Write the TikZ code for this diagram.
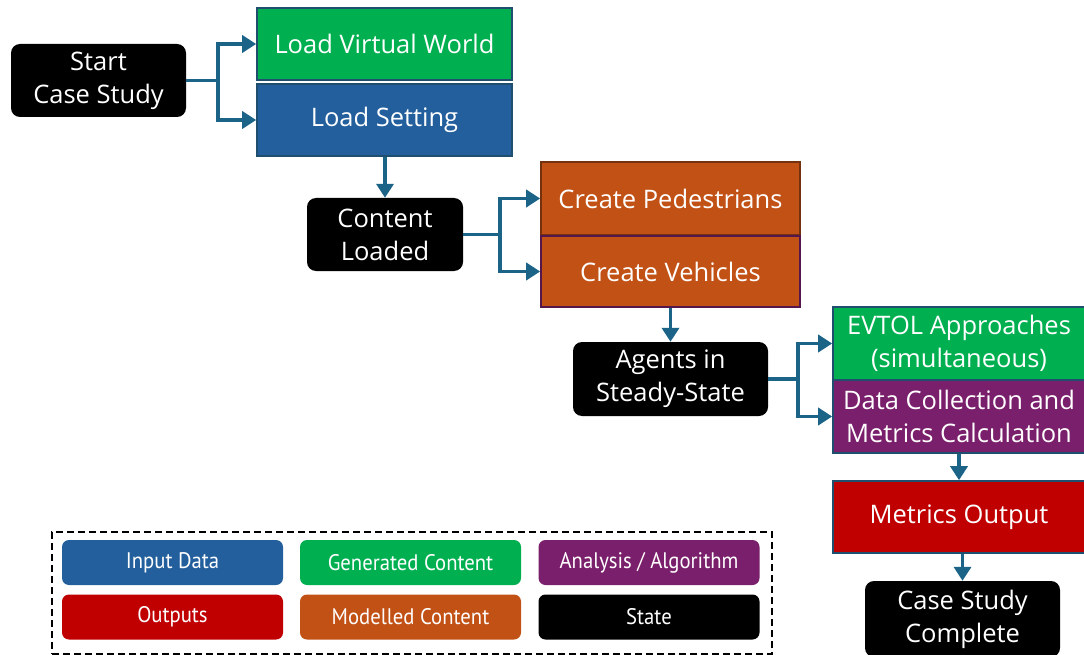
\documentclass[tikz,border=0pt]{standalone}
\usepackage{fontspec}
\setmainfont{Open Sans}
\newfontfamily\legendfont{PT Sans}[FakeStretch=0.92]
\usetikzlibrary{arrows.meta}

\definecolor{flowline}{HTML}{1B6487}
\definecolor{edgeline}{HTML}{1F4E6E}
\definecolor{genC}{HTML}{00B050}
\definecolor{inC}{HTML}{235F9C}
\definecolor{modC}{HTML}{C25116}
\definecolor{anaC}{HTML}{7A1F6B}
\definecolor{outC}{HTML}{C00000}

\tikzset{
  box/.style={draw=edgeline, line width=1.6pt, text=white, inner sep=0pt,
    align=center, font=\fontsize{25.5}{33}\selectfont},
  statebox/.style={fill=black, rounded corners=9pt, text=white, inner sep=0pt,
    align=center, font=\fontsize{25.5}{33}\selectfont},
  flow/.style={draw=flowline, line width=3.6pt,
    -{Triangle[length=14pt,width=17pt]}},
  flowbare/.style={draw=flowline, line width=3.6pt},
  key/.style={rounded corners=7pt, text=white, inner sep=0pt,
    minimum width=221pt, minimum height=45pt,
    font=\legendfont\fontsize{22.5}{26}\selectfont},
}

\begin{document}
\begin{tikzpicture}[x=1pt,y=-1pt]
\useasboundingbox (0,0) rectangle (1084,655);

% states
\node[statebox, minimum width=175pt, minimum height=73pt] (start) at (98.5,80.5) {Start\\Case Study};
\node[statebox, minimum width=156pt, minimum height=73pt] (loaded) at (385,234.5) {Content\\Loaded};
\node[statebox, minimum width=195pt, minimum height=74pt] (agents) at (670.5,379) {Agents in\\Steady-State};
\node[statebox, minimum width=195pt, minimum height=76pt] (done) at (962.5,619) {Case Study\\Complete};

% process boxes
\node[box, fill=genC, minimum width=255pt, minimum height=72pt] (world) at (384.5,44) {Load Virtual World};
\node[box, fill=inC, minimum width=255pt, minimum height=72pt] (setting) at (384.5,120) {Load Setting};
\node[box, fill=modC, draw=modC!60!black, minimum width=259pt, minimum height=73pt] (peds) at (670.5,198.5) {Create Pedestrians};
\node[box, fill=modC, draw=anaC!70!black, minimum width=259pt, minimum height=71pt] (vehs) at (670.5,271.5) {Create Vehicles};
\node[box, fill=genC, minimum width=252pt, minimum height=73pt] (evtol) at (959,343.5) {EVTOL Approaches\\(simultaneous)};
\node[box, fill=anaC, minimum width=252pt, minimum height=73pt] (data) at (959,416.5) {Data Collection and\\Metrics Calculation};
\node[box, fill=outC, minimum width=252pt, minimum height=72pt] (metrics) at (959,517) {Metrics Output};

% forks
\coordinate (f1) at (218,80.5);
\draw[flowbare] (start.east) -- (f1);
\draw[flow] (f1) |- (world.west);
\draw[flow] (f1) |- (setting.west);

\coordinate (f2) at (500,234.5);
\draw[flowbare] (loaded.east) -- (f2);
\draw[flow] (f2) |- (peds.west);
\draw[flow] (f2) |- (vehs.west);

\coordinate (f3) at (798,379);
\draw[flowbare] (agents.east) -- (f3);
\draw[flow] (f3) |- (evtol.west);
\draw[flow] (f3) |- (data.west);

% straight steps
\draw[flow] (setting.south -| loaded.north) -- (loaded.north);
\draw[flow] (vehs.south) -- (agents.north);
\draw[flow] (data.south -| metrics.north) -- (metrics.north);
\draw[flow] (metrics.south -| done.north) -- (done.north);

% legend
\node[draw=black, dash pattern=on 7pt off 4pt, line width=1.8pt, minimum width=720pt, minimum height=122pt] (legend) at (412,593) {};
\node[key, fill=inC] (kin) at (172.5,562.5) {Input Data};
\node[key, fill=genC] (kgen) at (410.5,562.5) {Generated Content};
\node[key, fill=anaC] (kana) at (649,562.5) {Analysis / Algorithm};
\node[key, fill=outC] (kout) at (172.5,617) {Outputs};
\node[key, fill=modC] (kmod) at (410.5,617) {Modelled Content};
\node[key, fill=black] (kst) at (649,617) {State};
\end{tikzpicture}
\end{document}
